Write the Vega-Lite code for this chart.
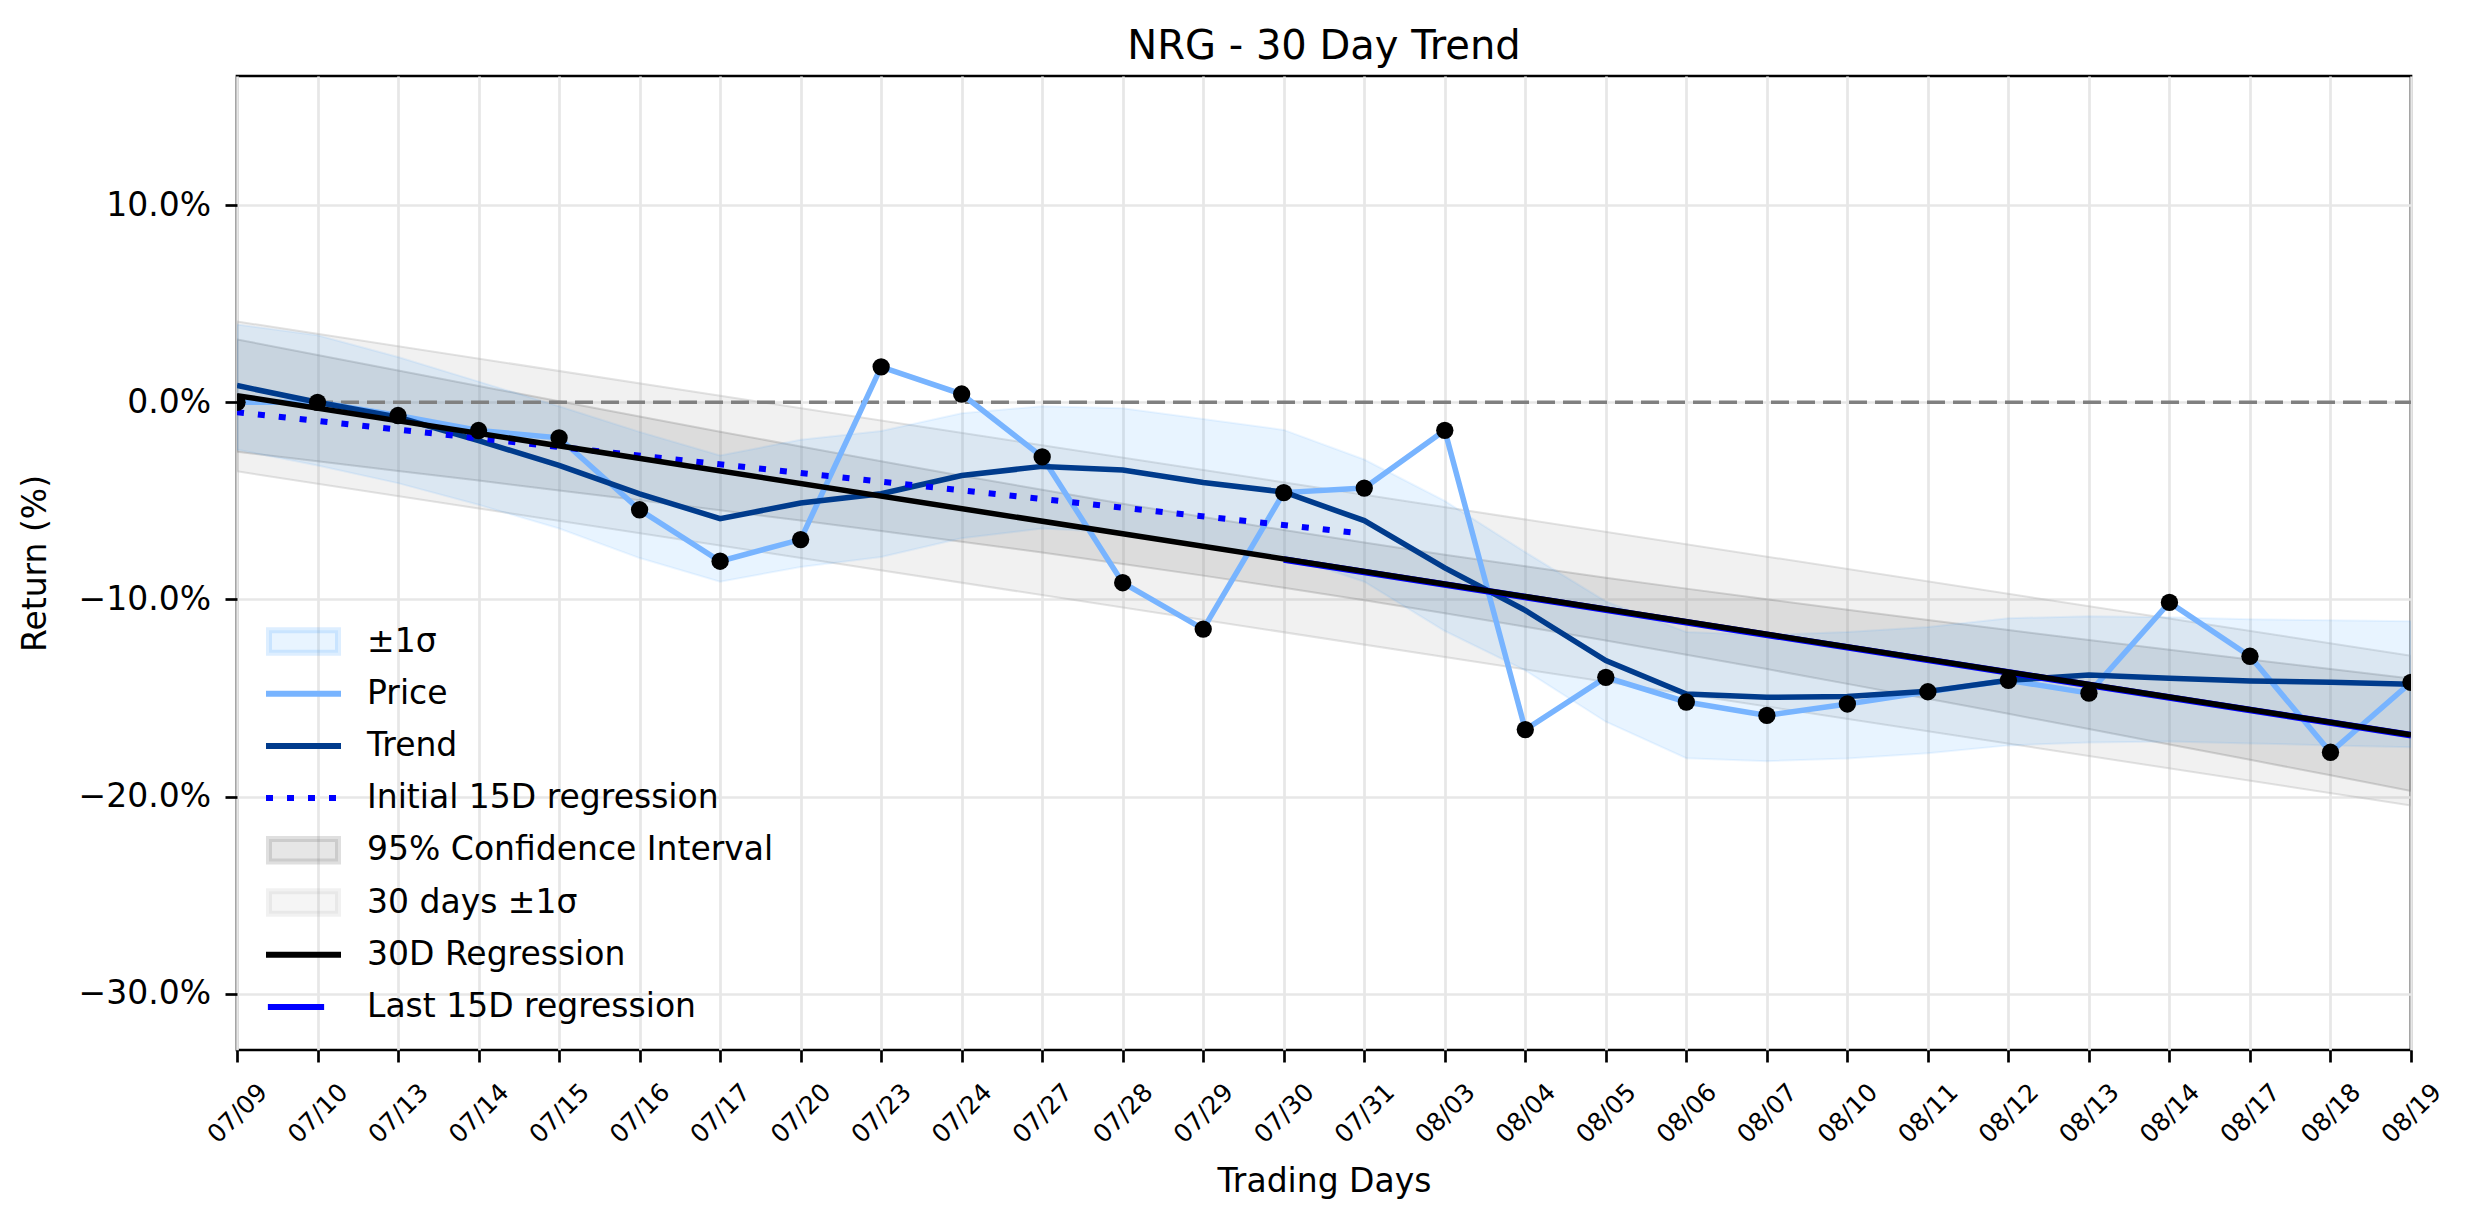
{
  "$schema": "https://vega.github.io/schema/vega-lite/v6.json",
  "width": 2174,
  "height": 974,
  "autosize": {"type": "none"},
  "padding": {"left": 237, "top": 76, "right": 63, "bottom": 174},
  "background": "white",
  "title": {"text": "NRG - 30 Day Trend", "fontSize": 40, "font": "DejaVu Sans", "fontWeight": "normal", "color": "black", "anchor": "middle", "baseline": "alphabetic", "offset": 18, "dy": 41},
  "config": {
    "font": "DejaVu Sans",
    "view": {"stroke": "black", "strokeWidth": 2.7},
    "axis": {"labelFont": "DejaVu Sans", "titleFont": "DejaVu Sans", "labelColor": "black", "titleColor": "black", "titleFontWeight": "normal", "tickColor": "black", "tickWidth": 2.7, "tickSize": 12, "domain": false, "gridColor": "#e7e7e7", "gridWidth": 2.7},
    "legend": {"labelFont": "DejaVu Sans", "labelColor": "black", "labelFontSize": 33, "labelLimit": 2000}
  },
  "datasets": {
    "days": [
      {"d": "07/09", "price": 0.0, "trend": 0.85, "up": 3.95, "lo": -2.4, "cihi": 3.19, "cilo": -2.51},
      {"d": "07/10", "price": 0.0, "trend": 0.0, "up": 3.4, "lo": -3.2, "cihi": 2.40, "cilo": -2.99},
      {"d": "07/13", "price": -0.67, "trend": -0.76, "up": 2.3, "lo": -4.1, "cihi": 1.61, "cilo": -3.48},
      {"d": "07/14", "price": -1.43, "trend": -1.94, "up": 1.05, "lo": -5.2, "cihi": 0.83, "cilo": -3.97},
      {"d": "07/15", "price": -1.80, "trend": -3.2, "up": -0.2, "lo": -6.4, "cihi": 0.05, "cilo": -4.47},
      {"d": "07/16", "price": -5.45, "trend": -4.64, "up": -1.5, "lo": -7.9, "cihi": -0.72, "cilo": -4.97},
      {"d": "07/17", "price": -8.06, "trend": -5.9, "up": -2.7, "lo": -9.1, "cihi": -1.49, "cilo": -5.48},
      {"d": "07/20", "price": -6.96, "trend": -5.11, "up": -1.9, "lo": -8.35, "cihi": -2.24, "cilo": -6.00},
      {"d": "07/23", "price": 1.80, "trend": -4.64, "up": -1.45, "lo": -7.85, "cihi": -2.99, "cilo": -6.53},
      {"d": "07/24", "price": 0.42, "trend": -3.71, "up": -0.55, "lo": -6.9, "cihi": -3.72, "cilo": -7.07},
      {"d": "07/27", "price": -2.77, "trend": -3.25, "up": -0.2, "lo": -6.4, "cihi": -4.44, "cilo": -7.62},
      {"d": "07/28", "price": -9.15, "trend": -3.43, "up": -0.3, "lo": -6.6, "cihi": -5.14, "cilo": -8.20},
      {"d": "07/29", "price": -11.5, "trend": -4.07, "up": -0.85, "lo": -7.3, "cihi": -5.82, "cilo": -8.79},
      {"d": "07/30", "price": -4.58, "trend": -4.55, "up": -1.4, "lo": -7.75, "cihi": -6.48, "cilo": -9.41},
      {"d": "07/31", "price": -4.35, "trend": -6.0, "up": -2.9, "lo": -9.1, "cihi": -7.11, "cilo": -10.04},
      {"d": "08/03", "price": -1.42, "trend": -8.4, "up": -5.0, "lo": -11.6, "cihi": -7.73, "cilo": -10.70},
      {"d": "08/04", "price": -16.6, "trend": -10.55, "up": -7.6, "lo": -13.6, "cihi": -8.32, "cilo": -11.38},
      {"d": "08/05", "price": -13.95, "trend": -13.1, "up": -10.1, "lo": -16.2, "cihi": -8.90, "cilo": -12.08},
      {"d": "08/06", "price": -15.2, "trend": -14.8, "up": -11.65, "lo": -18.05, "cihi": -9.45, "cilo": -12.80},
      {"d": "08/07", "price": -15.88, "trend": -14.96, "up": -11.8, "lo": -18.2, "cihi": -9.99, "cilo": -13.53},
      {"d": "08/10", "price": -15.3, "trend": -14.92, "up": -11.65, "lo": -18.07, "cihi": -10.52, "cilo": -14.28},
      {"d": "08/11", "price": -14.68, "trend": -14.66, "up": -11.4, "lo": -17.8, "cihi": -11.04, "cilo": -15.03},
      {"d": "08/12", "price": -14.1, "trend": -14.1, "up": -10.95, "lo": -17.4, "cihi": -11.55, "cilo": -15.80},
      {"d": "08/13", "price": -14.75, "trend": -13.83, "up": -10.85, "lo": -17.25, "cihi": -12.05, "cilo": -16.57},
      {"d": "08/14", "price": -10.15, "trend": -14.0, "up": -10.9, "lo": -17.2, "cihi": -12.55, "cilo": -17.35},
      {"d": "08/17", "price": -12.88, "trend": -14.13, "up": -11.0, "lo": -17.3, "cihi": -13.04, "cilo": -18.13},
      {"d": "08/18", "price": -17.75, "trend": -14.2, "up": -11.05, "lo": -17.4, "cihi": -13.53, "cilo": -18.92},
      {"d": "08/19", "price": -14.2, "trend": -14.3, "up": -11.1, "lo": -17.5, "cihi": -14.01, "cilo": -19.71}
    ],
    "hatch": [
      {"d": "07/09", "hi": 4.1, "lo": -3.5},
      {"d": "08/19", "hi": -12.85, "lo": -20.45}
    ],
    "reg30": [
      {"d": "07/09", "v": 0.34},
      {"d": "08/19", "v": -16.86}
    ],
    "init15": [
      {"d": "07/09", "v": -0.5},
      {"d": "07/31", "v": -6.66}
    ],
    "last15": [
      {"d": "07/30", "v": -7.97},
      {"d": "08/19", "v": -16.88}
    ]
  },
  "layer": [
    {
      "data": {"name": "hatch"},
      "mark": {"type": "area", "fillOpacity": 0.15, "stroke": "#b0b0b0", "strokeOpacity": 0.35, "strokeWidth": 2, "clip": true},
      "encoding": {
        "x": {
          "field": "d", "type": "ordinal", "title": "Trading Days",
          "scale": {"type": "point", "padding": 0, "domain": ["07/09","07/10","07/13","07/14","07/15","07/16","07/17","07/20","07/23","07/24","07/27","07/28","07/29","07/30","07/31","08/03","08/04","08/05","08/06","08/07","08/10","08/11","08/12","08/13","08/14","08/17","08/18","08/19"]},
          "axis": {"labelAngle": -45, "labelAlign": "center", "labelBaseline": "middle", "labelFontSize": 25, "labelPadding": 51, "labelOverlap": false, "grid": true, "titleFontSize": 33, "titlePadding": 18}
        },
        "y": {
          "field": "hi", "type": "quantitative", "title": "Return (%)",
          "scale": {"domain": [-32.85, 16.55], "nice": false, "zero": false},
          "axis": {"values": [-30, -20, -10, 0, 10], "labelExpr": "format(datum.value, '.1f') + '%'", "labelFontSize": 33, "labelPadding": 14.5, "labelOverlap": false, "grid": true, "titleFontSize": 33, "titlePadding": 26}
        },
        "y2": {"field": "lo"},
        "color": {
          "datum": "30 days ±1σ",
          "scale": {
            "domain": ["±1σ", "Price", "Trend", "Initial 15D regression", "95% Confidence Interval", "30 days ±1σ", "30D Regression", "Last 15D regression"],
            "range": ["#1E90FF", "#78b4ff", "#003b8c", "#0000ff", "#808080", "#a0a0a0", "#000000", "#0000ff"]
          },
          "legend": {
            "title": null,
            "orient": "none",
            "legendX": 26,
            "legendY": 549,
            "padding": 0,
            "clipHeight": 33,
            "rowPadding": 18.2,
            "labelOffset": 23,
            "symbolSize": 5625,
            "symbolStrokeWidth": 6,
            "labelFontSize": 33,
            "labelLimit": 2000,
            "encoding": {
              "symbols": {
                "shape": {"value": {"expr": "(datum.value === '±1σ' || datum.value === '95% Confidence Interval' || datum.value === '30 days ±1σ') ? 'M-0.92,-0.3L0.92,-0.3L0.92,0.3L-0.92,0.3Z' : (datum.value === 'Last 15D regression' ? 'M-0.95,0L0.55,0' : 'stroke')"}},
                "stroke": {"value": {"expr": "datum.value === '±1σ' ? '#1E90FF' : (datum.value === '95% Confidence Interval' ? '#808080' : (datum.value === '30 days ±1σ' ? '#a0a0a0' : (datum.value === 'Price' ? '#78b4ff' : (datum.value === 'Trend' ? '#003b8c' : (datum.value === '30D Regression' ? '#000000' : '#0000ff')))))"}},
                "strokeDash": {"value": {"expr": "datum.value === 'Initial 15D regression' ? [7, 14] : null"}},
                "fillOpacity": {"value": {"expr": "datum.value === '±1σ' ? 0.1 : (datum.value === '95% Confidence Interval' ? 0.2 : (datum.value === '30 days ±1σ' ? 0.1 : 1))"}},
                "strokeOpacity": {"value": {"expr": "datum.value === '±1σ' ? 0.15 : (datum.value === '95% Confidence Interval' ? 0.25 : (datum.value === '30 days ±1σ' ? 0.15 : 1))"}},
                "opacity": {"value": 1},
                "size": {"value": 5625}
              }
            }
          }
        }
      }
    },
    {
      "data": {"name": "days"},
      "mark": {"type": "area", "fillOpacity": 0.18, "stroke": "#808080", "strokeOpacity": 0.3, "strokeWidth": 2, "clip": true},
      "encoding": {
        "x": {"field": "d", "type": "ordinal", "title": "Trading Days"},
        "y": {"field": "cihi", "type": "quantitative", "title": "Return (%)"},
        "y2": {"field": "cilo"},
        "color": {"datum": "95% Confidence Interval"}
      }
    },
    {
      "data": {"name": "days"},
      "mark": {"type": "area", "fillOpacity": 0.1, "stroke": "#1E90FF", "strokeOpacity": 0.08, "strokeWidth": 2, "clip": true},
      "encoding": {
        "x": {"field": "d", "type": "ordinal", "title": "Trading Days"},
        "y": {"field": "up", "type": "quantitative", "title": "Return (%)"},
        "y2": {"field": "lo"},
        "color": {"datum": "±1σ"}
      }
    },
    {
      "data": {"name": "hatch"},
      "mark": {"type": "line", "stroke": "#808080", "strokeWidth": 3.5, "strokeDash": [18, 8], "clip": true},
      "encoding": {
        "x": {"field": "d", "type": "ordinal", "title": "Trading Days"},
        "y": {"datum": 0, "type": "quantitative", "title": "Return (%)"}
      }
    },
    {
      "data": {"name": "days"},
      "mark": {"type": "line", "strokeWidth": 5.5, "clip": true},
      "encoding": {
        "x": {"field": "d", "type": "ordinal", "title": "Trading Days"},
        "y": {"field": "price", "type": "quantitative", "title": "Return (%)"},
        "color": {"datum": "Price"}
      }
    },
    {
      "data": {"name": "days"},
      "mark": {"type": "line", "strokeWidth": 5.5, "clip": true},
      "encoding": {
        "x": {"field": "d", "type": "ordinal", "title": "Trading Days"},
        "y": {"field": "trend", "type": "quantitative", "title": "Return (%)"},
        "color": {"datum": "Trend"}
      }
    },
    {
      "data": {"name": "init15"},
      "mark": {"type": "line", "strokeWidth": 6, "strokeDash": [7, 14], "strokeCap": "butt", "clip": true},
      "encoding": {
        "x": {"field": "d", "type": "ordinal", "title": "Trading Days"},
        "y": {"field": "v", "type": "quantitative", "title": "Return (%)"},
        "color": {"datum": "Initial 15D regression"}
      }
    },
    {
      "data": {"name": "last15"},
      "mark": {"type": "line", "strokeWidth": 6.6, "clip": true},
      "encoding": {
        "x": {"field": "d", "type": "ordinal", "title": "Trading Days"},
        "y": {"field": "v", "type": "quantitative", "title": "Return (%)"},
        "color": {"datum": "Last 15D regression"}
      }
    },
    {
      "data": {"name": "reg30"},
      "mark": {"type": "line", "strokeWidth": 5.5, "clip": true},
      "encoding": {
        "x": {"field": "d", "type": "ordinal", "title": "Trading Days"},
        "y": {"field": "v", "type": "quantitative", "title": "Return (%)"},
        "color": {"datum": "30D Regression"}
      }
    },
    {
      "data": {"name": "days"},
      "mark": {"type": "point", "filled": true, "color": "black", "size": 300, "opacity": 1, "clip": true},
      "encoding": {
        "x": {"field": "d", "type": "ordinal", "title": "Trading Days"},
        "y": {"field": "price", "type": "quantitative", "title": "Return (%)"}
      }
    }
  ]
}
